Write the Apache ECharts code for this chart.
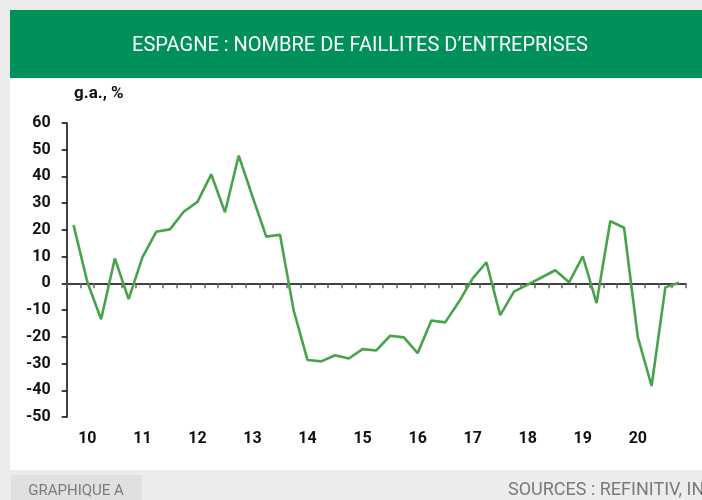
<!DOCTYPE html>
<html>
<head>
<meta charset="utf-8">
<script src="https://cdn.jsdelivr.net/npm/echarts@6/dist/echarts.min.js"></script>
<style>
html,body{margin:0;padding:0;background:#ececec;}
#c{width:702px;height:500px;}
</style>
</head>
<body>
<div id="c"></div>
<script>
// Quarterly, 2009 T4 -> 2020 T4
const quarters = [
 "T4 09",
 "T1 10","T2 10","T3 10","T4 10",
 "T1 11","T2 11","T3 11","T4 11",
 "T1 12","T2 12","T3 12","T4 12",
 "T1 13","T2 13","T3 13","T4 13",
 "T1 14","T2 14","T3 14","T4 14",
 "T1 15","T2 15","T3 15","T4 15",
 "T1 16","T2 16","T3 16","T4 16",
 "T1 17","T2 17","T3 17","T4 17",
 "T1 18","T2 18","T3 18","T4 18",
 "T1 19","T2 19","T3 19","T4 19",
 "T1 20","T2 20","T3 20","T4 20"
];
const faillites = [
 21.8,
 0.5,-13.4,9.3,-5.9,
 9.7,19.3,20.2,26.8,
 30.5,40.8,26.6,47.8,
 32.5,17.5,18.2,-10.3,
 -28.7,-29.2,-26.9,-28.1,
 -24.6,-25.1,-19.6,-20.2,
 -26.1,-13.9,-14.6,-6.9,
 1.9,7.9,-11.9,-3.1,
 -0.5,2.2,4.9,0.4,
 10.1,-7.4,23.3,20.8,
 -20.1,-38.4,-1.5,0.2
];
const yTicks = [-50,-40,-30,-20,-10,0,10,20,30,40,50,60];

const FONT = "Roboto";
const NARROW = "'Liberation Sans Narrow', 'Roboto', sans-serif";

const chart = echarts.init(document.getElementById('c'), null, {renderer:'canvas'});
chart.setOption({
  backgroundColor:'#ececec',
  animation:false,
  graphic:[
    {type:'rect', z:-10, shape:{x:10,y:78,width:692,height:392}, style:{fill:'#ffffff'}},
    {type:'rect', z:-10, shape:{x:10,y:10,width:692,height:68}, style:{fill:'#00915a'}},
    {type:'text', style:{text:"ESPAGNE : NOMBRE DE FAILLITES D’ENTREPRISES", x:360, y:46, align:'center', verticalAlign:'middle', fill:'#ffffff', font:"20px "+NARROW}},
    {type:'text', style:{text:'g.a., %', x:74, y:94, verticalAlign:'middle', fill:'#111', font:"bold 17px "+NARROW}},
    {type:'rect', z:-10, shape:{x:11,y:475,width:131,height:25}, style:{fill:'#e0e0e0'}},
    {type:'text', style:{text:'GRAPHIQUE A', x:76, y:491, align:'center', verticalAlign:'middle', fill:'#7a7a7a', font:"15px "+NARROW}},
    {type:'text', style:{text:'SOURCES : REFINITIV, INE', x:508, y:490, align:'left', verticalAlign:'middle', fill:'#7a7a7a', font:"18px "+NARROW}}
  ],
  grid:{left:66.7, right:16, top:123, bottom:83, containLabel:false},
  xAxis:[
    {type:'category', data:quarters, boundaryGap:true, position:'bottom',
     axisLine:{onZero:true, lineStyle:{color:'#000', width:1.5}},
     axisTick:{show:true, interval:0, length:5, lineStyle:{color:'#666', width:1.5}},
     axisLabel:{show:false}, splitLine:{show:false}},
    {type:'category', data:quarters, boundaryGap:true, position:'bottom',
     axisLine:{show:false, onZero:false}, axisTick:{show:false},
     axisLabel:{show:true, margin:14, color:'#111', fontFamily:FONT, fontWeight:'bold', fontSize:16,
       interval:(i)=> i%4===1,
       formatter:(v)=> v.slice(3)}, splitLine:{show:false}}
  ],
  yAxis:{type:'value', min:-50, max:60, interval:10,
    axisLine:{show:true, lineStyle:{color:'#000', width:1.5}},
    axisTick:{show:true, length:5, lineStyle:{color:'#000', width:1.5}},
    axisLabel:{margin:16, color:'#111', fontFamily:FONT, fontWeight:'bold', fontSize:16},
    splitLine:{show:false}},
  series:[{type:'line', data:faillites, xAxisIndex:0, symbol:'none', smooth:false,
    lineStyle:{color:'#47a34c', width:2.6}}]
});
</script>
</body>
</html>
